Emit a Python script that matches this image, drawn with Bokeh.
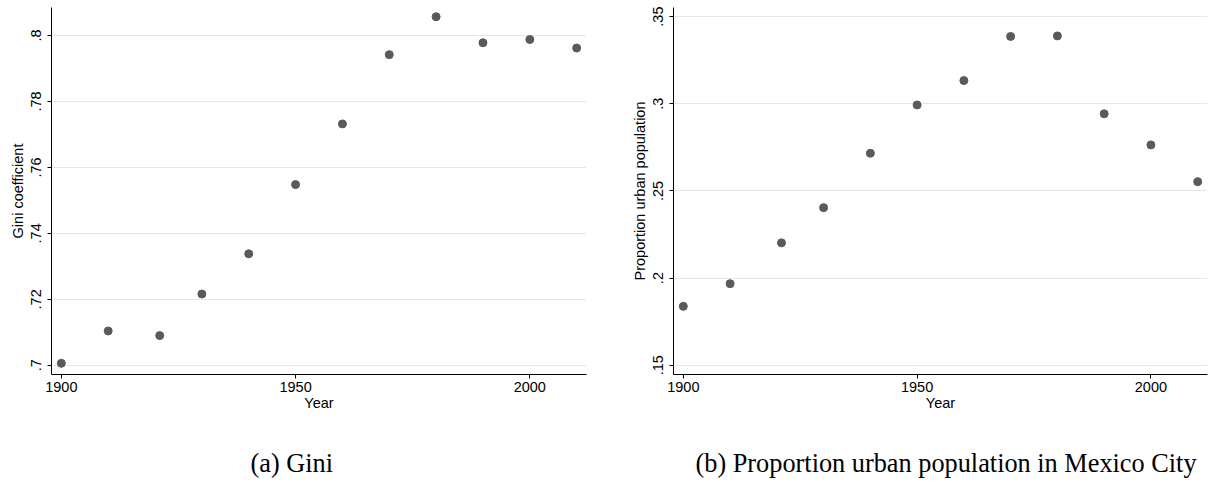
from bokeh.plotting import figure
from bokeh.layouts import row, column
from bokeh.models import Range1d, FixedTicker, Label
from bokeh.embed import file_html
from bokeh.resources import INLINE

years = [1900, 1910, 1921, 1930, 1940, 1950, 1960, 1970, 1980, 1990, 2000, 2010]
gini = [0.7006, 0.7104, 0.7090, 0.7216, 0.7338, 0.7548, 0.7732, 0.7942, 0.8057, 0.7978, 0.7988, 0.7962]
urban = [0.1838, 0.1968, 0.2202, 0.2404, 0.2716, 0.2993, 0.3133, 0.3386, 0.3389, 0.2942, 0.2764, 0.2553]

x_ticks = [1900, 1950, 2000]
gini_ticks = [0.70, 0.72, 0.74, 0.76, 0.78, 0.80]
gini_tick_labels = [".7", ".72", ".74", ".76", ".78", ".8"]
urban_ticks = [0.15, 0.20, 0.25, 0.30, 0.35]
urban_tick_labels = [".15", ".2", ".25", ".3", ".35"]
captions = ["(a) Gini", "(b) Proportion urban population in Mexico City"]

SANS = "Liberation Sans"
SERIF = "Liberation Serif"
FS = "14.5px"


def make(yvals, ylabel, yticks, ylabels, yrange, width, border_left, border_right):
    p = figure(width=width, height=423, output_backend="svg", toolbar_location=None,
               x_range=Range1d(1897.9, 2012.1), y_range=Range1d(*yrange),
               min_border_left=border_left, min_border_right=border_right,
               min_border_top=7, min_border_bottom=49)
    p.outline_line_color = None
    p.background_fill_color = "white"
    p.border_fill_color = "white"

    p.scatter(years, yvals, size=8, color="#5a5a5a", line_color="#5a5a5a")

    xa = p.xaxis[0]
    xa.ticker = FixedTicker(ticks=x_ticks)
    xa.axis_label = "Year"
    ya = p.yaxis[0]
    ya.ticker = FixedTicker(ticks=yticks)
    ya.major_label_overrides = {t: l for t, l in zip(yticks, ylabels)}
    ya.axis_label = ylabel
    ya.major_label_orientation = "vertical"

    for ax in (xa, ya):
        ax.axis_line_color = "black"
        ax.axis_line_width = 1
        ax.major_tick_line_color = "black"
        ax.major_tick_in = 0
        ax.major_tick_out = 4
        ax.minor_tick_line_color = None
        ax.major_label_text_font = SANS
        ax.major_label_text_font_size = FS
        ax.major_label_text_color = "black"
        ax.axis_label_text_font = SANS
        ax.axis_label_text_font_size = FS
        ax.axis_label_text_font_style = "normal"
        ax.axis_label_text_color = "black"
    xa.major_label_standoff = 3
    xa.axis_label_standoff = 0
    ya.major_label_standoff = 6
    ya.axis_label_standoff = 3

    p.xgrid.grid_line_color = None
    p.ygrid.ticker = FixedTicker(ticks=yticks)
    p.ygrid.grid_line_color = "#e6e6e6"
    p.ygrid.grid_line_width = 1
    return p


def caption_fig(text, width, left):
    c = figure(width=width, height=60, output_backend="svg", toolbar_location=None,
               x_axis_type=None, y_axis_type=None, min_border=0,
               x_range=Range1d(0, 1), y_range=Range1d(0, 1))
    c.outline_line_color = None
    c.grid.visible = False
    c.add_layout(Label(x=left, y=20, x_units="screen", y_units="screen", text=text,
                       text_font=SERIF, text_font_size="26.3px", text_color="black",
                       text_align="left", text_baseline="alphabetic"))
    return c


p1 = make(gini, "Gini coefficient", gini_ticks, gini_tick_labels, (0.6972, 0.8085), 600, 51, 14)
p2 = make(urban, "Proportion urban population", urban_ticks, urban_tick_labels, (0.1447, 0.3552), 610, 73, 3)
c1 = caption_fig(captions[0], 600, 250)
c2 = caption_fig(captions[1], 610, 95)

layout = column(row(p1, p2), row(c1, c2))
open("out.html", "w").write(file_html(layout, INLINE))
